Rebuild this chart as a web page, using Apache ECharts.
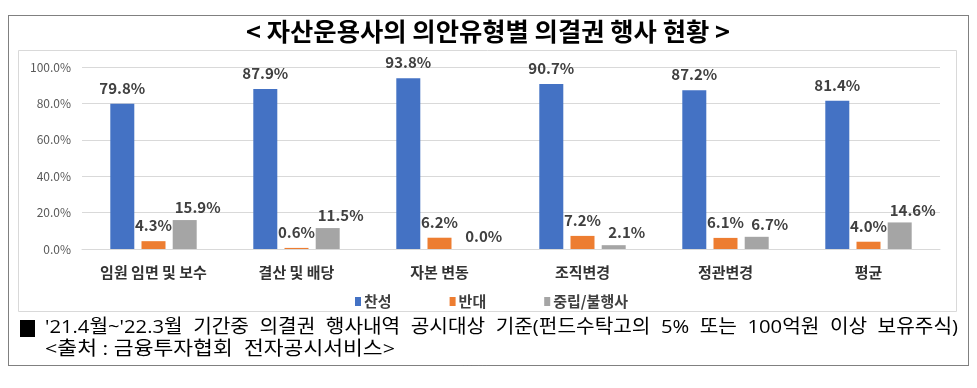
<!DOCTYPE html>
<html><head><meta charset="utf-8">
<script src="https://cdn.jsdelivr.net/npm/echarts@6/dist/echarts.min.js"></script>
<style>html,body{margin:0;padding:0;background:#fff}#c{width:977px;height:388px}</style>
</head><body><div id="c"></div>
<script>
const categories = ['임원 임면 및 보수','결산 및 배당','자본 변동','조직변경','정관변경','평균'];
const seriesNames = ['찬성','반대','중립/불행사'];
const approve = [79.8, 87.9, 93.8, 90.7, 87.2, 81.4];
const oppose = [4.3, 0.6, 6.2, 7.2, 6.1, 4.0];
const neutral = [15.9, 11.5, 0.0, 2.1, 6.7, 14.6];
const yTicks = [0, 20, 40, 60, 80, 100];
const titleText = '< 자산운용사의 의안유형별 의결권 행사 현황 >';
const noteText = "'21.4월~'22.3월  기간중  의결권  행사내역  공시대상  기준(펀드수탁고의  5%  또는  100억원  이상  보유주식)";
const sourceText = '<출처 : 금융투자협회  전자공시서비스>';

const FONT = '"Noto Sans CJK KR", "Noto Sans", sans-serif';
const FOOT = '"Open Sans", "Noto Sans CJK KR", sans-serif';
const colors = ['#4472C4', '#ED7D31', '#A5A5A5'];
const chart = echarts.init(document.getElementById('c'), null, {renderer: 'canvas'});

const mctx = document.createElement('canvas').getContext('2d');
function fitScale(text, font, width) {
  mctx.font = font;
  return width / mctx.measureText(text).width;
}
function fittedText(text, font, x0, x1, yc) {
  return {
    type: 'text', x: x0, y: yc, scaleX: fitScale(text, font, x1 - x0),
    style: {text: text, font: font, fill: '#000', textAlign: 'left', textVerticalAlign: 'middle'}
  };
}

function mkSeries(name, data, color, offset) {
  return {
    name: name, type: 'bar', data: data, barWidth: 24, barGap: '30%',
    itemStyle: {color: color},
    label: {
      show: true, position: 'top', distance: 8, offset: offset,
      formatter: p => p.value.toFixed(1) + '%',
      fontFamily: FONT, fontSize: 15, fontWeight: 'bold', color: '#404040'
    }
  };
}

chart.setOption({
  animation: false,
  textStyle: {fontFamily: FONT},
  graphic: [
    {type: 'rect', shape: {x: 8.5, y: 15.5, width: 960, height: 350}, style: {fill: 'none', stroke: '#000', lineWidth: 1, lineDash: [1, 1]}},
    {type: 'rect', shape: {x: 18.5, y: 50.5, width: 938, height: 261}, style: {fill: '#fff', stroke: '#D9D9D9', lineWidth: 1}, z: -1},
    fittedText(titleText, 'bold 25px ' + FONT, 246, 730, 31),
    {type: 'rect', shape: {x: 20, y: 320, width: 15, height: 17}, style: {fill: '#000'}},
    fittedText(noteText, '19px ' + FOOT, 45, 958, 328),
    fittedText(sourceText, '19px ' + FOOT, 45, 395, 350)
  ],
  legend: {
    data: seriesNames, left: 350, top: 289, itemWidth: 6, itemHeight: 9, itemGap: 58,
    icon: 'rect', textStyle: {fontFamily: FONT, fontSize: 15, fontWeight: 'bold', color: '#404040', padding: [0, 0, 0, -2]}
  },
  grid: {left: 82, right: 37, top: 67, bottom: 139},
  xAxis: {
    type: 'category', data: categories,
    axisLine: {lineStyle: {color: '#D9D9D9'}}, axisTick: {show: false},
    axisLabel: {margin: 16, fontFamily: FONT, fontSize: 15, fontWeight: 'bold', color: '#333'}
  },
  yAxis: {
    type: 'value', min: yTicks[0], max: yTicks[yTicks.length - 1], interval: 20,
    axisLine: {show: false}, axisTick: {show: false},
    splitLine: {lineStyle: {color: '#D9D9D9'}},
    axisLabel: {formatter: v => v.toFixed(1) + '%', fontFamily: FONT, fontSize: 12, color: '#595959', margin: 11}
  },
  series: [
    mkSeries(seriesNames[0], approve, colors[0], [0, 0]),
    mkSeries(seriesNames[1], oppose, colors[1], [0, 0]),
    mkSeries(seriesNames[2], neutral, colors[2], [13, 3])
  ]
});
</script></body></html>
